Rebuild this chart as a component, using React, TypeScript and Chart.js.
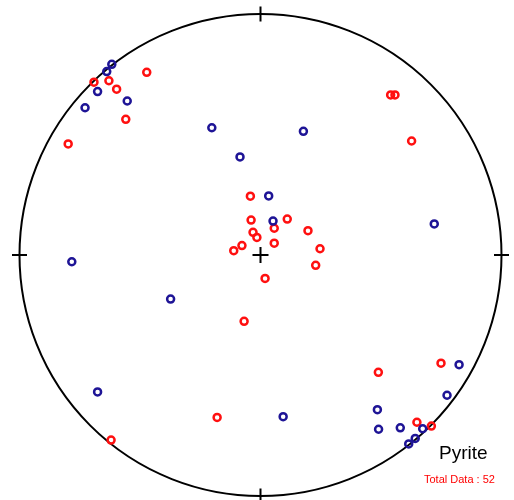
import React, { useEffect, useRef } from "react";
import { Chart, registerables } from "chart.js";

Chart.register(...registerables);

// Equal-area stereonet coordinates (unit circle = primitive)
const redX = [-0.691, -0.629, -0.472, -0.597, -0.559, -0.798, -0.042, -0.039, 0.111, 0.057, -0.031, -0.015, 0.197, 0.057, -0.077, -0.111, 0.247, 0.229, 0.019, 0.749, 0.489, 0.649, 0.709, 0.540, 0.558, 0.627, -0.068, -0.180, -0.620];
const redY = [0.717, 0.723, 0.758, 0.688, 0.563, 0.461, 0.244, 0.145, 0.149, 0.111, 0.094, 0.073, 0.101, 0.049, 0.039, 0.018, 0.026, -0.043, -0.097, -0.449, -0.487, -0.694, -0.710, 0.664, 0.664, 0.473, -0.275, -0.674, -0.768];
const blueX = [-0.617, -0.638, -0.676, -0.553, -0.728, -0.202, 0.178, -0.085, 0.034, 0.052, 0.824, 0.774, 0.485, 0.490, 0.580, 0.673, 0.642, 0.615, 0.721, -0.783, -0.373, -0.676, 0.094];
const blueY = [0.791, 0.761, 0.678, 0.639, 0.611, 0.528, 0.513, 0.407, 0.245, 0.141, -0.455, -0.582, -0.642, -0.723, -0.717, -0.721, -0.761, -0.784, 0.129, -0.028, -0.183, -0.568, -0.671];

const mineralName = "Pyrite";
const totalLabel = "Total Data : 52";

const toPoints = (xs: number[], ys: number[]) => xs.map((x, i) => ({ x, y: ys[i] }));

const stereoPlugin = {
  id: "stereo",
  beforeDatasetsDraw(chart: any) {
    const { ctx } = chart;
    const sx = chart.scales.x;
    const sy = chart.scales.y;
    const cx = sx.getPixelForValue(0);
    const cy = sy.getPixelForValue(0);
    const r = sx.getPixelForValue(1) - cx;
    ctx.save();
    ctx.strokeStyle = "#000";
    ctx.lineWidth = 2;
    ctx.beginPath();
    ctx.arc(cx, cy, r, 0, Math.PI * 2);
    ctx.stroke();
    const t = 7.5;
    ctx.beginPath();
    ctx.moveTo(cx, cy - r - t); ctx.lineTo(cx, cy - r + t);
    ctx.moveTo(cx, cy + r - t); ctx.lineTo(cx, cy + r + t);
    ctx.moveTo(cx - r - t, cy); ctx.lineTo(cx - r + t, cy);
    ctx.moveTo(cx + r - t, cy); ctx.lineTo(cx + r + t, cy);
    ctx.moveTo(cx - 8, cy); ctx.lineTo(cx + 8, cy);
    ctx.moveTo(cx, cy - 8); ctx.lineTo(cx, cy + 8);
    ctx.stroke();
    ctx.restore();
  },
  afterDraw(chart: any) {
    const { ctx } = chart;
    ctx.save();
    ctx.textBaseline = "alphabetic";
    ctx.textAlign = "left";
    ctx.fillStyle = "#000";
    ctx.font = '19px "Liberation Sans", Arial, sans-serif';
    ctx.fillText(mineralName, 439, 459);
    ctx.fillStyle = "#ff0000";
    ctx.font = '11px "Liberation Sans", Arial, sans-serif';
    ctx.fillText(totalLabel, 424, 483);
    ctx.restore();
  },
};

export default function App() {
  const ref = useRef<HTMLCanvasElement>(null);
  useEffect(() => {
    if (!ref.current) return;
    const R = 241;
    const chart = new Chart(ref.current, {
      type: "scatter",
      data: {
        datasets: [
          {
            label: "blue",
            data: toPoints(blueX, blueY),
            pointStyle: "circle",
            pointRadius: 3.5,
            pointBorderWidth: 2.5,
            borderColor: "#1e1496",
            backgroundColor: "rgba(0,0,0,0)",
          },
          {
            label: "red",
            data: toPoints(redX, redY),
            pointStyle: "circle",
            pointRadius: 3.5,
            pointBorderWidth: 2.5,
            borderColor: "#ff1010",
            backgroundColor: "rgba(0,0,0,0)",
          },
        ],
      },
      options: {
        animation: false,
        responsive: false,
        layout: { padding: 0, autoPadding: false },
        plugins: { legend: { display: false }, tooltip: { enabled: false } },
        scales: {
          x: { type: "linear", display: false, min: -260.5 / R, max: (514 - 260.5) / R },
          y: { type: "linear", display: false, min: -(500 - 255) / R, max: 255 / R },
        },
      },
      plugins: [stereoPlugin],
    });
    return () => chart.destroy();
  }, []);
  return (
    <div style={{ position: "fixed", left: 0, top: 0, width: 514, height: 500, background: "#fff" }}>
      <canvas ref={ref} width={514} height={500} />
    </div>
  );
}
